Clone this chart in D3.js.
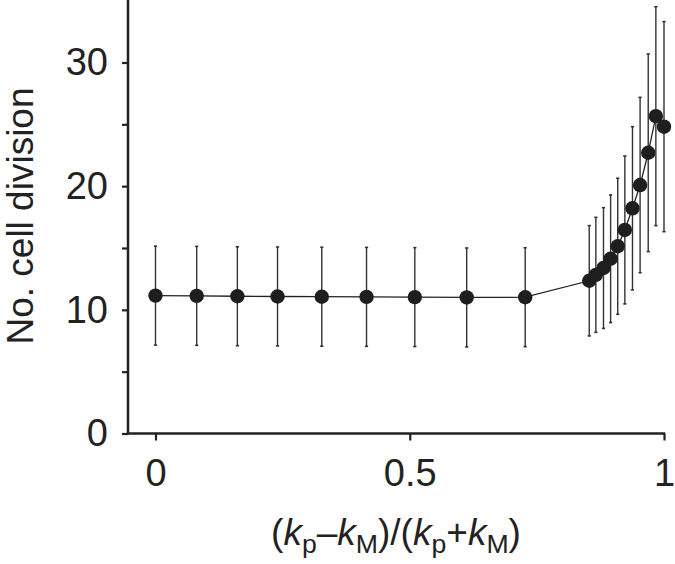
<!DOCTYPE html>
<html><head><meta charset="utf-8">
<script src="https://cdn.jsdelivr.net/npm/d3@7"></script>
<style>
html,body{margin:0;padding:0;background:#fff;}
svg{display:block;}
text{font-family:"Liberation Sans",Arial,Helvetica,sans-serif;fill:#222;}
</style></head>
<body>
<svg id="c" width="675" height="564"></svg>
<script>
// data
const xValues = [0, 0.081, 0.161, 0.240, 0.327, 0.415, 0.510, 0.612, 0.727,
                 0.853, 0.866, 0.881, 0.895, 0.909, 0.923, 0.938, 0.953, 0.969, 0.984, 1.0];
const meanValues = [11.15, 11.13, 11.1, 11.08, 11.06, 11.05, 11.03, 11.0, 11.02,
                    12.35, 12.83, 13.38, 14.13, 15.14, 16.46, 18.21, 20.09, 22.7, 25.66, 24.81];
const errValues = [4.0, 4.0, 4.0, 4.0, 4.0, 4.0, 4.0, 4.0, 4.0,
                   4.46, 4.65, 4.88, 5.16, 5.5, 5.98, 6.6, 7.09, 7.99, 8.85, 8.49];
const xTicks = [0, 0.5, 1];
const xTickLabels = ["0", "0.5", "1"];
const yTicks = [0, 5, 10, 15, 20, 25, 30];
const yTickLabels = {0: "0", 10: "10", 20: "20", 30: "30"};

const data = xValues.map((x, i) => ({x, y: meanValues[i], e: errValues[i]}));

const svg = d3.select("#c");
const x = d3.scaleLinear().domain([0, 1]).range([155.5, 664]);
const y = d3.scaleLinear().domain([0, 35]).range([433.5, 0.66]);
const axisX0 = 128;

const fs = 38;
const lfs = 37;

// y axis
const gy = svg.append("g").attr("transform", `translate(${axisX0},0)`);
gy.call(d3.axisLeft(y).tickValues(yTicks).tickSize(6).tickSizeOuter(0)
  .tickFormat(d => yTickLabels[d] || "").tickPadding(14));
gy.select(".domain").remove();
gy.append("line").attr("x1", 0).attr("x2", 0).attr("y1", 0).attr("y2", y(0) + 1)
  .attr("stroke", "#222").attr("stroke-width", 2.5);
gy.selectAll(".tick line").attr("stroke", "#222").attr("stroke-width", 2.2);
gy.selectAll(".tick text").attr("font-size", fs).attr("fill", "#222")
  .style("font-family", '"Liberation Sans",Arial,sans-serif');

// x axis
const gx = svg.append("g").attr("transform", `translate(0,${y(0)})`);
gx.call(d3.axisBottom(x).tickValues(xTicks).tickSize(7).tickSizeOuter(0)
  .tickFormat((d, i) => xTickLabels[i]).tickPadding(19));
gx.select(".domain").remove();
gx.append("line").attr("x1", axisX0 - 1.2).attr("x2", x(1) + 1.2).attr("y1", 0).attr("y2", 0)
  .attr("stroke", "#222").attr("stroke-width", 2.5);
gx.selectAll(".tick line").attr("stroke", "#222").attr("stroke-width", 2.2);
gx.selectAll(".tick text").attr("font-size", fs).attr("fill", "#222")
  .style("font-family", '"Liberation Sans",Arial,sans-serif');

// error bars
const eb = svg.append("g");
eb.selectAll("line.bar").data(data).join("line").attr("class", "bar")
  .attr("x1", d => x(d.x)).attr("x2", d => x(d.x))
  .attr("y1", d => y(d.y - d.e)).attr("y2", d => y(d.y + d.e))
  .attr("stroke", "#333").attr("stroke-width", 1.4);
eb.selectAll("line.capT").data(data).join("line").attr("class", "capT")
  .attr("x1", d => x(d.x) - 1.6).attr("x2", d => x(d.x) + 1.6)
  .attr("y1", d => y(d.y + d.e)).attr("y2", d => y(d.y + d.e))
  .attr("stroke", "#333").attr("stroke-width", 1.6);
eb.selectAll("line.capB").data(data).join("line").attr("class", "capB")
  .attr("x1", d => x(d.x) - 1.6).attr("x2", d => x(d.x) + 1.6)
  .attr("y1", d => y(d.y - d.e)).attr("y2", d => y(d.y - d.e))
  .attr("stroke", "#333").attr("stroke-width", 1.6);

// line
svg.append("path").datum(data)
  .attr("d", d3.line().x(d => x(d.x)).y(d => y(d.y)))
  .attr("fill", "none").attr("stroke", "#222").attr("stroke-width", 1.3);

// points
svg.append("g").selectAll("circle").data(data).join("circle")
  .attr("cx", d => x(d.x)).attr("cy", d => y(d.y)).attr("r", 7.2)
  .attr("fill", "#1e1e1e");

// y label
svg.append("text").attr("transform", `translate(33,216) rotate(-90)`)
  .attr("text-anchor", "middle").attr("font-size", lfs).text("No. cell division");

// x label
const xl = svg.append("text").attr("x", 396).attr("y", 545)
  .attr("text-anchor", "middle").attr("font-size", lfs);
xl.append("tspan").text("(");
xl.append("tspan").attr("font-style", "italic").text("k");
xl.append("tspan").attr("font-size", lfs * 0.72).attr("dy", 8).text("p");
xl.append("tspan").attr("dy", -8).text("\u2013");
xl.append("tspan").attr("font-style", "italic").text("k");
xl.append("tspan").attr("font-size", lfs * 0.72).attr("dy", 8).text("M");
xl.append("tspan").attr("dy", -8).text(")/(");
xl.append("tspan").attr("font-style", "italic").text("k");
xl.append("tspan").attr("font-size", lfs * 0.72).attr("dy", 8).text("p");
xl.append("tspan").attr("dy", -8).text("+");
xl.append("tspan").attr("font-style", "italic").text("k");
xl.append("tspan").attr("font-size", lfs * 0.72).attr("dy", 8).text("M");
xl.append("tspan").attr("dy", -8).text(")");
</script>
</body></html>
